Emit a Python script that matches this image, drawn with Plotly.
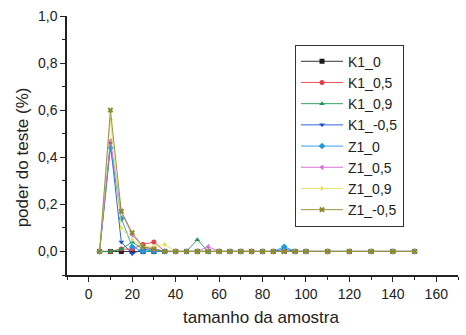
import plotly.graph_objects as go

# sample sizes
tamanho = [5, 10, 15, 20, 25, 30, 35, 40, 45, 50, 55, 60, 65, 70, 75, 80, 85,
           90, 95, 100, 110, 120, 130, 140, 150]

# test power per configuration
k1_0 = [0.00] * 25
k1_05 = [0.00, 0.00, 0.01, 0.01, 0.03, 0.04, 0.00, 0.00, 0.00, 0.00, 0.00, 0.00, 0.00,
         0.00, 0.00, 0.00, 0.00, 0.00, 0.00, 0.00, 0.00, 0.00, 0.00, 0.00, 0.00]
k1_09 = [0.00, 0.00, 0.01, 0.04, 0.01, 0.00, 0.00, 0.00, 0.00, 0.05, 0.00, 0.00, 0.00,
         0.00, 0.00, 0.00, 0.00, 0.00, 0.00, 0.00, 0.00, 0.00, 0.00, 0.00, 0.00]
k1_m05 = [0.00, 0.46, 0.04, -0.01, 0.01, 0.01, 0.00, 0.00, 0.00, 0.00, 0.00, 0.00, 0.00,
          0.00, 0.00, 0.00, 0.00, 0.01, 0.00, 0.00, 0.00, 0.00, 0.00, 0.00, 0.00]
z1_0 = [0.00, 0.44, 0.14, 0.02, 0.00, 0.00, 0.00, 0.00, 0.00, 0.00, 0.00, 0.00, 0.00,
        0.00, 0.00, 0.00, 0.00, 0.02, 0.00, 0.00, 0.00, 0.00, 0.00, 0.00, 0.00]
z1_05 = [0.00, 0.47, 0.17, 0.07, 0.02, 0.01, 0.00, 0.00, 0.00, 0.00, 0.02, 0.00, 0.00,
         0.00, 0.00, 0.00, 0.00, 0.00, 0.00, 0.00, 0.00, 0.00, 0.00, 0.00, 0.00]
z1_09 = [0.00, 0.56, 0.10, 0.05, 0.02, 0.02, 0.03, 0.00, 0.00, 0.00, 0.00, 0.00, 0.00,
         0.00, 0.00, 0.00, 0.00, 0.00, 0.00, 0.00, 0.00, 0.00, 0.00, 0.00, 0.00]
z1_m05 = [0.00, 0.60, 0.17, 0.08, 0.02, 0.01, 0.00, 0.00, 0.00, 0.00, 0.00, 0.00, 0.00,
          0.00, 0.00, 0.00, 0.00, 0.00, 0.00, 0.00, 0.00, 0.00, 0.00, 0.00, 0.00]

nomes = ["K1_0", "K1_0,5", "K1_0,9", "K1_-0,5", "Z1_0", "Z1_0,5", "Z1_0,9", "Z1_-0,5"]
series = [k1_0, k1_05, k1_09, k1_m05, z1_0, z1_05, z1_09, z1_m05]
cores = ["#1a1a1a", "#e8404a", "#1f9a50", "#1f50d8", "#1c98e0", "#d466d4", "#e6e060", "#8c8a2c"]
simbolos = ["square", "circle", "triangle-up", "triangle-down", "diamond",
            "triangle-left", "triangle-right", "x"]

fig = go.Figure()
for nome, ys, cor, simb in zip(nomes, series, cores, simbolos):
    fig.add_trace(go.Scatter(
        x=tamanho, y=ys, name=nome, mode="lines+markers",
        line=dict(color=cor, width=0.9),
        marker=dict(color=cor, symbol=simb, size=5),
    ))

L, R, T, B = 67, 8, 13, 60
W, H = 466, 335
pw, ph = W - L - R, H - T - B

def px_x(p):
    return (p - L) / pw

def px_y(p):
    return (H - B - p) / ph

axis_common = dict(
    showline=True, linecolor="#222", linewidth=1.5, mirror=False,
    ticks="outside", ticklen=5, tickwidth=1.2, tickcolor="#222",
    showgrid=False, zeroline=False,
)

fig.update_layout(
    width=W, height=H,
    margin=dict(l=L, r=R, t=T, b=B),
    paper_bgcolor="white", plot_bgcolor="white",
    separators=",.",
    font=dict(family="Liberation Sans, Arial, sans-serif", color="#222"),
    xaxis=dict(range=[-10, 170], tickmode="array",
               tickvals=[0, 20, 40, 60, 80, 100, 120, 140, 160],
               tickfont=dict(size=14),
               minor=dict(dtick=10, tick0=0, ticks="outside", ticklen=3, tickcolor="#222"),
               **axis_common),
    yaxis=dict(range=[-0.1, 1.0], tickmode="array",
               tickvals=[0, 0.2, 0.4, 0.6, 0.8, 1.0], tickformat=".1f",
               tickfont=dict(size=14),
               minor=dict(dtick=0.1, tick0=0, ticks="outside", ticklen=3, tickcolor="#222"),
               **axis_common),
    legend=dict(x=px_x(295), y=px_y(42), xanchor="left", yanchor="top",
                bgcolor="white", bordercolor="#333", borderwidth=1,
                font=dict(size=14, color="#222"), itemwidth=42,
                tracegroupgap=0),
    showlegend=True,
    annotations=[
        dict(text="tamanho da amostra", x=px_x(261), y=px_y(318), xref="paper", yref="paper",
             showarrow=False, font=dict(size=17), xanchor="center", yanchor="middle"),
        dict(text="poder do teste (%)", x=px_x(22), y=px_y(156), xref="paper", yref="paper",
             showarrow=False, font=dict(size=17), textangle=-90,
             xanchor="center", yanchor="middle"),
    ],
)

fig.write_html("out.html")
